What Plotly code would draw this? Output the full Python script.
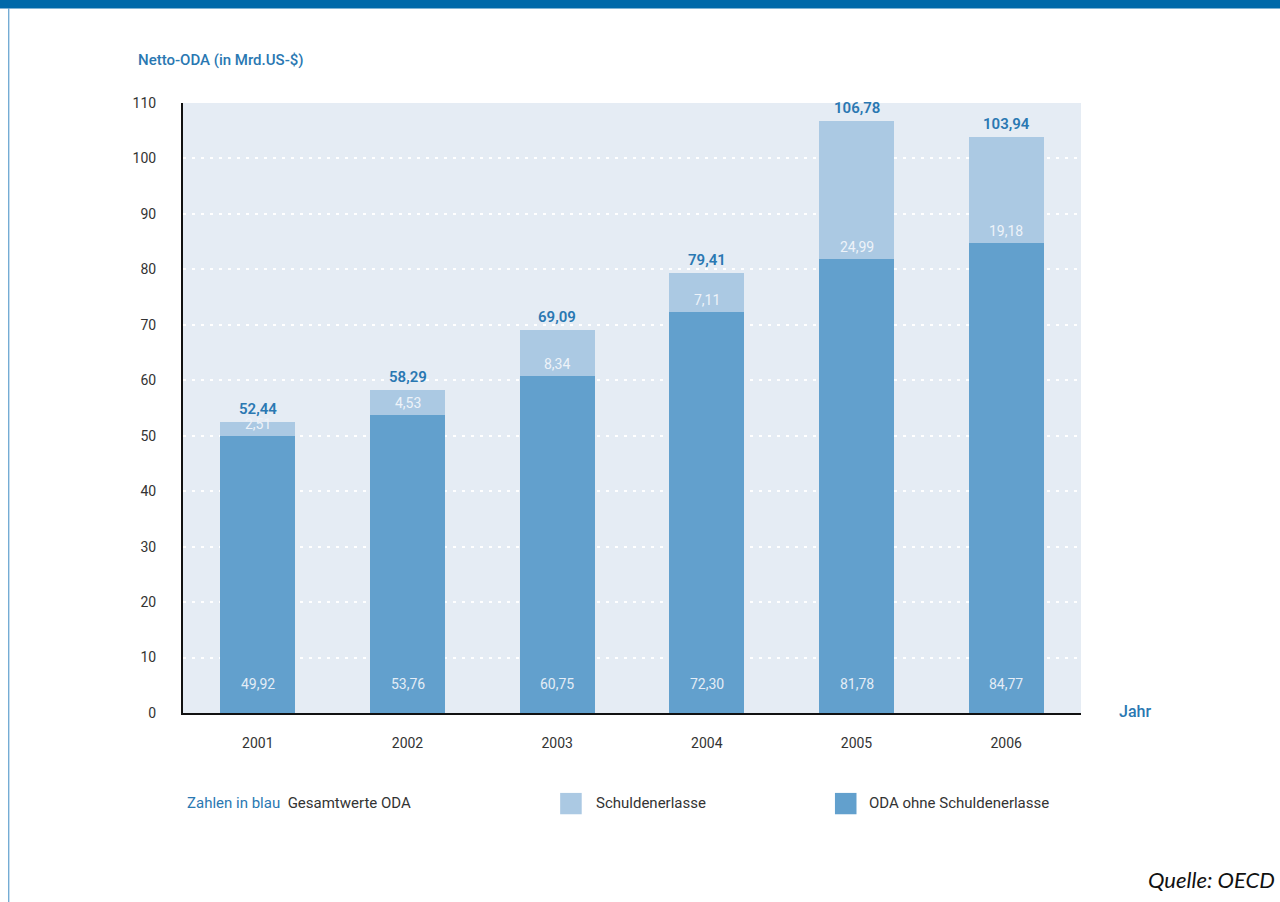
import plotly.graph_objects as go

years = ["2001", "2002", "2003", "2004", "2005", "2006"]
oda_ohne = [49.92, 53.76, 60.75, 72.30, 81.78, 84.77]
schulden = [2.51, 4.53, 8.34, 7.11, 24.99, 19.18]
gesamt = [52.44, 58.29, 69.09, 79.41, 106.78, 103.94]
y_ticks = [0, 10, 20, 30, 40, 50, 60, 70, 80, 90, 100, 110]

FONT = "Roboto, Liberation Sans Narrow, sans-serif"
DARK = "#62a0cd"
LIGHT = "#abc9e3"
BLUE_TXT = "#2a78b2"
PLOT_BG = "#e5ecf4"

def de(v):
    return f"{v:.2f}".replace(".", ",")

fig = go.Figure()
fig.add_bar(x=years, y=oda_ohne, name="ODA ohne Schuldenerlasse",
            marker=dict(color=DARK, line=dict(width=0)), width=0.5)
fig.add_bar(x=years, y=schulden, name="Schuldenerlasse",
            marker=dict(color=LIGHT, line=dict(width=0)), width=0.5)

# labels (x given as category index)
for i, v in enumerate(oda_ohne):
    fig.add_annotation(x=i, y=0, text=de(v), showarrow=False, yanchor="bottom", yshift=19,
                       font=dict(family=FONT, size=14, color="#e4edf6"))
for i, (b, v, t) in enumerate(zip(oda_ohne, schulden, gesamt)):
    fig.add_annotation(x=i, y=b, text=de(v), showarrow=False, yanchor="bottom", yshift=2,
                       font=dict(family=FONT, size=14, color="#eef3f9"))
    fig.add_annotation(x=i, y=t, text=de(t), showarrow=False, yanchor="bottom", yshift=2,
                       font=dict(family=FONT, size=15, color=BLUE_TXT, weight=600))

# axis titles
fig.add_annotation(xref="paper", yref="paper", x=-0.052, y=1.052, xanchor="left", yanchor="bottom",
                   text="Netto-ODA (in Mrd.US-$)", showarrow=False,
                   font=dict(family=FONT, size=15, color=BLUE_TXT, weight=500))
fig.add_annotation(xref="paper", yref="paper", x=1.04, y=0.0, xanchor="left", yanchor="middle",
                   text="Jahr", showarrow=False, yshift=2,
                   font=dict(family=FONT, size=16, color=BLUE_TXT, weight=500))

# legend drawn manually
fig.add_annotation(xref="paper", yref="paper", x=0.002, y=-0.148, xanchor="left", yanchor="middle",
                   text=f"<span style='color:{BLUE_TXT}'>Zahlen in blau</span>  <span style='color:#333'>Gesamtwerte ODA</span>",
                   showarrow=False, font=dict(family=FONT, size=15))
fig.add_shape(type="rect", xref="paper", yref="paper", x0=0.420, x1=0.444, y0=-0.166, y1=-0.131,
              fillcolor=LIGHT, line=dict(width=0))
fig.add_annotation(xref="paper", yref="paper", x=0.458, y=-0.148, xanchor="left", yanchor="middle",
                   text="Schuldenerlasse", showarrow=False, font=dict(family=FONT, size=15, color="#333"))
fig.add_shape(type="rect", xref="paper", yref="paper", x0=0.726, x1=0.750, y0=-0.166, y1=-0.131,
              fillcolor=DARK, line=dict(width=0))
fig.add_annotation(xref="paper", yref="paper", x=0.762, y=-0.148, xanchor="left", yanchor="middle",
                   text="ODA ohne Schuldenerlasse", showarrow=False, font=dict(family=FONT, size=15, color="#333"))

# source
fig.add_annotation(xref="paper", yref="paper", x=1.218, y=-0.273, xanchor="right", yanchor="middle",
                   text="<i>Quelle: OECD</i>", showarrow=False,
                   font=dict(family="Lato, Open Sans, sans-serif", size=22, color="#111"))

# page decorations: top band and left frame line
fig.add_shape(type="rect", xref="paper", yref="paper", x0=-0.204, x1=1.222, y0=1.155, y1=1.2,
              fillcolor="#0069a9", line=dict(width=0), layer="above")
fig.add_shape(type="line", xref="paper", yref="paper", x0=-0.194, x1=-0.194, y0=-0.31, y1=1.155,
              line=dict(color="#3f8cc4", width=1))

fig.update_layout(
    barmode="stack",
    width=1280, height=902,
    margin=dict(l=183, r=199, t=103, b=189),
    paper_bgcolor="white",
    plot_bgcolor=PLOT_BG,
    showlegend=False,
    font=dict(family=FONT, size=14, color="#333"),
    xaxis=dict(type="category", range=[-0.5, 5.5], showline=True, linecolor="#111", linewidth=2,
               showgrid=False, ticks="", ticklabelstandoff=16,
               tickfont=dict(family=FONT, size=14, color="#333")),
    yaxis=dict(range=[0, 110], tickvals=y_ticks, showline=True, linecolor="#111", linewidth=2,
               showgrid=True, gridcolor="white", gridwidth=2, griddash="3px,6px",
               zeroline=False, ticks="", ticklabelstandoff=22,
               tickfont=dict(family=FONT, size=14, color="#333")),
)

fig.write_html("out.html", config={"displayModeBar": False},
               post_script="document.body.style.margin='0';document.body.style.overflow='hidden';")
